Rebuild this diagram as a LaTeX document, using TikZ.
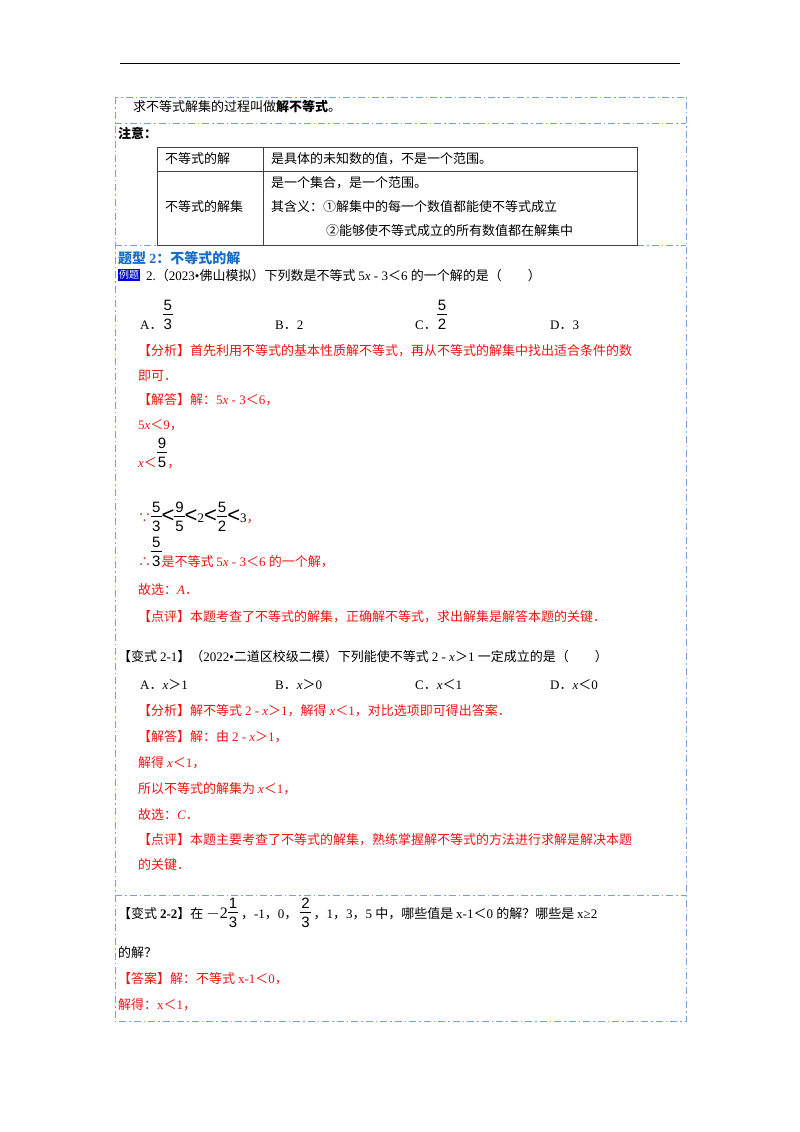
\documentclass[tikz,border=0pt]{standalone}
\usepackage{fontspec}
\setmainfont{Liberation Serif}
\newfontfamily\cjk{Noto Sans CJK SC}
\newfontfamily\hsans{Noto Sans CJK SC}
\newfontfamily\asans{Liberation Sans}
\let\mylatin\rmfamily
\newcommand{\frb}[2]{{\let\mylatin\asans\asans\fontsize{15}{17}\selectfont\setlength\tabcolsep{1pt}\setlength\arrayrulewidth{0.8pt}\begin{tabular}[b]{c}#1\\[-1pt]\hline\rule{0pt}{14pt}#2\end{tabular}}}
\newcommand{\fr}[2]{\raisebox{-9pt}{\frb{#1}{#2}}}
\newcommand{\ls}{{\let\mylatin\asans\asans\fontsize{22}{22}\selectfont <}}
\XeTeXinterchartokenstate=1
\newXeTeXintercharclass\CJKcls
\count255="3000 \loop \XeTeXcharclass\count255=\CJKcls \ifnum\count255<"9FFF \advance\count255 by 1 \repeat
\count255="FF00 \loop \XeTeXcharclass\count255=\CJKcls \ifnum\count255<"FFEF \advance\count255 by 1 \repeat
\count255="2460 \loop \XeTeXcharclass\count255=\CJKcls \ifnum\count255<"24FF \advance\count255 by 1 \repeat
\XeTeXcharclass"2234=\CJKcls \XeTeXcharclass"2235=\CJKcls
\XeTeXinterchartoks 0 \CJKcls = {\cjk}
\XeTeXinterchartoks 4095 \CJKcls = {\cjk}
\XeTeXinterchartoks \CJKcls 0 = {\mylatin}
\XeTeXinterchartoks 4095 0 = {\mylatin}
\definecolor{frame}{RGB}{120,160,222}
\definecolor{ans}{RGB}{240,20,20}
\definecolor{head}{RGB}{20,110,200}
\begin{document}
\begin{tikzpicture}[x=1pt,y=-1pt,
  t/.style={anchor=west,inner sep=0pt,font=\fontsize{13}{15}\selectfont},
  r/.style={t,text=ans},
  fr/.style={draw=frame,line width=0.9pt,dash pattern=on 7pt off 3pt on 1.5pt off 3pt},
  tb/.style={draw=black!75,line width=0.9pt}]
\useasboundingbox (0,0) rectangle (800,1132);
\draw[line width=0.8pt] (120,63) -- (680,63);
% frames
\draw[fr] (115,97) rectangle (686,1021);
\foreach \yy in {123,245,895} \draw[fr] (115,\yy) -- (686,\yy);
% table
\draw[tb] (157,147) rectangle (637,245);
\draw[tb] (157,171) -- (637,171);
\draw[tb] (263,147) -- (263,245);
\node[t] (a1) at (133,107) {求不等式解集的过程叫做\textbf{解不等式}。};
\node[t] (a2) at (118,133) {\textbf{注意：}};
\node[t] (c1) at (165,159) {不等式的解};
\node[t] (c2) at (271,159) {是具体的未知数的值，不是一个范围。};
\node[t] (c3) at (165,207) {不等式的解集};
\node[t] (c4) at (271,183) {是一个集合，是一个范围。};
\node[t] (c5) at (271,207) {其含义：①解集中的每一个数值都能使不等式成立};
\node[t] (c6) at (326,231) {②能够使不等式成立的所有数值都在解集中};
\node[t,text=head,font=\fontsize{14}{16}\selectfont\bfseries\hsans] (h) at (118,258) {题型 2：不等式的解};
\node[t,fill=blue!85!black,text=white,font=\fontsize{10}{12}\selectfont,inner sep=1pt] (ex) at (118,275) {例题};
\node[t] (q) at (146,276) {2.（2023•佛山模拟）下列数是不等式 5\textit{x} - 3＜6 的一个解的是（\hspace{2em}）};
\node[t,anchor=base west] (oA) at (140,329) {A．\frb{5}{3}};
\node[t,anchor=base west] (oB) at (275,329) {B．2};
\node[t,anchor=base west] (oC) at (415,329) {C．\frb{5}{2}};
\node[t,anchor=base west] (oD) at (550,329) {D．3};
\node[r] (f1) at (138,351) {【分析】首先利用不等式的基本性质解不等式，再从不等式的解集中找出适合条件的数};
\node[r] (f2) at (138,376) {即可．};
\node[r] (j1) at (138,400) {【解答】解：5\textit{x} - 3＜6，};
\node[r] (j2) at (138,425) {5\textit{x}＜9，};
\node[r,anchor=base west] (j3) at (138,467) {\textit{x}＜\textcolor{black}{\frb{9}{5}}，};
\node[r,anchor=base west] (j4) at (138,522) {∵\textcolor{black}{\fr{5}{3}\ls\fr{9}{5}\ls{\asans 2}\ls\fr{5}{2}\ls{\asans 3}}，};
\node[r,anchor=base west] (j5) at (138,566) {∴\textcolor{black}{\frb{5}{3}}是不等式 5\textit{x} - 3＜6 的一个解，};
\node[r] (j6) at (138,590) {故选：\textit{A}．};
\node[r] (j7) at (138,617) {【点评】本题考查了不等式的解集，正确解不等式，求出解集是解答本题的关键．};
\node[t] (v1) at (118,657) {【变式 2-1】（2022•二道区校级二模）下列能使不等式 2 - \textit{x}＞1 一定成立的是（\hspace{2em}）};
\node[t] (p1) at (140,685) {A．\textit{x}＞1};
\node[t] (p2) at (275,685) {B．\textit{x}＞0};
\node[t] (p3) at (415,685) {C．\textit{x}＜1};
\node[t] (p4) at (550,685) {D．\textit{x}＜0};
\node[r] (k1) at (138,711) {【分析】解不等式 2 - \textit{x}＞1，解得 \textit{x}＜1，对比选项即可得出答案．};
\node[r] (k2) at (138,737) {【解答】解：由 2 - \textit{x}＞1，};
\node[r] (k3) at (138,763) {解得 \textit{x}＜1，};
\node[r] (k4) at (138,789) {所以不等式的解集为 \textit{x}＜1，};
\node[r] (k5) at (138,815) {故选：\textit{C}．};
\node[r] (k6) at (138,840) {【点评】本题主要考查了不等式的解集，熟练掌握解不等式的方法进行求解是解决本题};
\node[r] (k7) at (138,865) {的关键．};
\node[t,anchor=base west] (w1) at (118,918) {【变式 \textbf{2-2}】在 {\fontsize{16}{18}\selectfont$-$2}\fr{1}{3} ，-1，0， \fr{2}{3} ，1，3，5 中，哪些值是 x-1＜0 的解？哪些是 x≥2};
\node[t] (w2) at (118,953) {的解？};
\node[r] (w3) at (118,979) {【答案】解：不等式 x-1＜0，};
\node[r] (w4) at (118,1005) {解得：x＜1，};
\end{tikzpicture}
\end{document}
